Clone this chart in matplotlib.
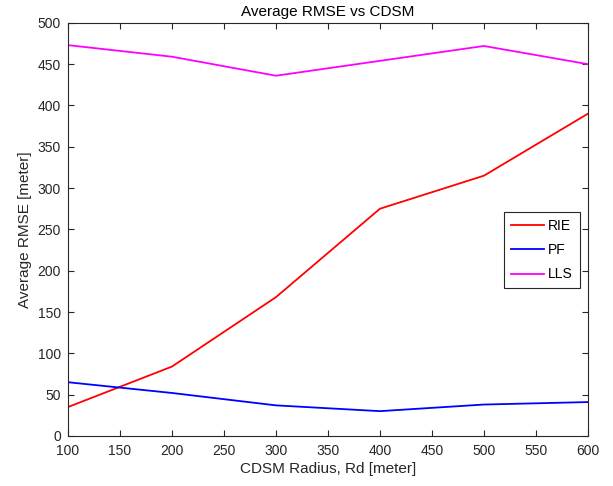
import matplotlib
matplotlib.use('Agg')
import matplotlib.pyplot as plt

plt.rcParams['font.family'] = ['Liberation Sans', 'DejaVu Sans']

radius = [100, 200, 300, 400, 500, 600]
rie = [35, 84, 168, 275, 315, 390]
pf = [65, 52, 37, 30, 38, 41]
lls = [473, 459, 436, 454, 472, 450]

fig = plt.figure(figsize=(6.13, 4.86), dpi=100)
ax = fig.add_axes([0.111, 0.103, 0.848, 0.850])

ax.plot(radius, rie, color='#ff0000', lw=1.3, label='RIE')
ax.plot(radius, pf, color='#0000ff', lw=1.3, label='PF')
ax.plot(radius, lls, color='#ff00ff', lw=1.3, label='LLS')

ax.set_xlim(100, 600)
ax.set_ylim(0, 500)
ax.set_xticks(range(100, 601, 50))
ax.set_yticks(range(0, 501, 50))
ax.tick_params(direction='in', top=True, right=True, labelsize=10, length=4, width=0.8, colors='#262626')
ax.tick_params(axis='x', pad=6)
ax.tick_params(axis='y', pad=5)
for s in ax.spines.values():
    s.set_color('#262626')
    s.set_linewidth(0.8)

ax.set_title('Average RMSE vs CDSM', fontsize=11, color='black', pad=5)
ax.set_xlabel('CDSM Radius, Rd [meter]', fontsize=11, color='#262626', labelpad=3)
ax.set_ylabel('Average RMSE [meter]', fontsize=11, color='#262626')

leg = ax.legend(loc='center right', bbox_to_anchor=(0.99, 0.45), fontsize=10, fancybox=False,
                framealpha=1, edgecolor='#262626', borderpad=0.5, handlelength=2.4,
                labelspacing=0.75, handletextpad=0.3, borderaxespad=0.2)
leg.get_frame().set_linewidth(0.8)

fig.savefig('out.png', dpi=100)
